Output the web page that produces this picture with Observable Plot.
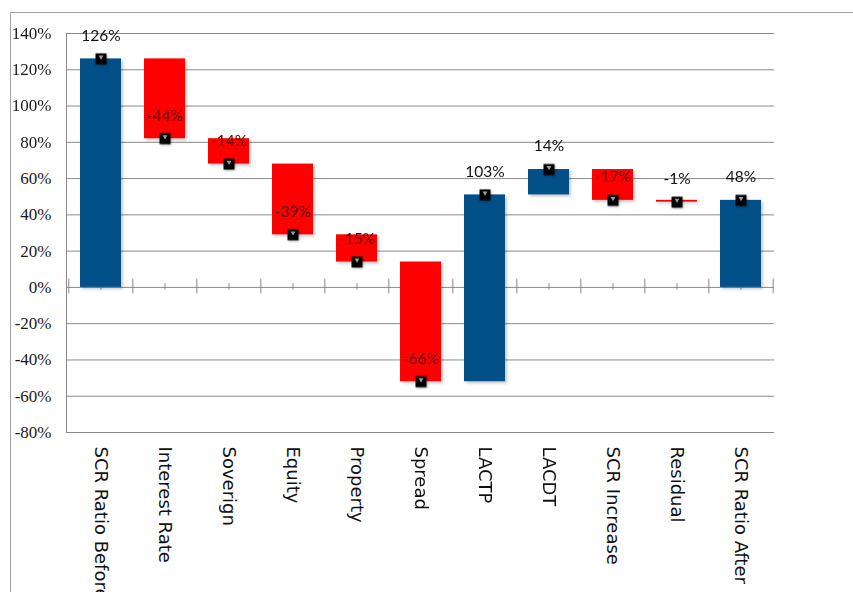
<!DOCTYPE html>
<html>
<head>
<meta charset="utf-8">
<script src="https://cdn.jsdelivr.net/npm/d3@7"></script>
<script src="https://cdn.jsdelivr.net/npm/@observablehq/plot@0.6"></script>
<style>
  body { margin: 0; background: #fff; }
  #wrap { position: relative; width: 853px; height: 592px; overflow: hidden; }
  #border { position: absolute; left: 10px; top: 12px; right: -4px; bottom: -4px;
            border-left: 1.5px solid #a3a3a3; border-top: 1.5px solid #a3a3a3; }
  #chart { position: absolute; left: 0; top: 0; }
  .bars { filter: drop-shadow(2px 2px 1.5px rgba(0,0,0,0.22)); }
  .marker { filter: drop-shadow(1px 1px 1px rgba(0,0,0,0.3)); }
  #chart [aria-label^="y-axis"] text { font-family: "Liberation Serif", serif !important; font-size: 17px !important; fill: #1a1a1a !important; }
  #chart [aria-label^="x-axis"] text { font-family: "DejaVu Sans", sans-serif !important; font-size: 18px !important; fill: #111 !important; }
</style>
</head>
<body>
<div id="wrap"><div id="border"></div><div id="chart"></div></div>
<script>
// Solvency ratio walk: starting ratio, shocks, loss absorbency, ending ratio
const categories = ["SCR Ratio Before", "Interest Rate", "Soverign", "Equity", "Property", "Spread",
                    "LACTP", "LACDT", "SCR Increase", "Residual", "SCR Ratio After"];
const changes = [126, -44, -14, -39, -15, -66, 103, 14, -17, -1, 48];
const isTotal = [true, false, false, false, false, false, false, false, false, false, true];
const yTicks = [-80, -60, -40, -20, 0, 20, 40, 60, 80, 100, 120, 140];

const BLUE = "#034f88";
const RED = "#ff0000";
const GRID = "#8a8a8a";

// running totals for the waterfall
let running = 0;
const rows = categories.map((category, i) => {
  let start, end;
  if (isTotal[i]) { start = 0; end = changes[i]; }
  else { start = running; end = running + changes[i]; }
  running = end;
  return {category, start, end, value: changes[i]};
});

const W = 853, H = 592;
const mL = 66, mR = 79, mT = 33, mB = 160;
const step = (W - mL - mR) / categories.length;

const chart = Plot.plot({
  width: W,
  height: H,
  marginLeft: mL,
  marginRight: mR,
  marginTop: mT,
  marginBottom: mB,
  x: {type: "band", domain: categories, paddingInner: 0.36, paddingOuter: 0.18, label: null},
  y: {domain: [-80, 140], label: null},
  marks: [
    Plot.ruleY(yTicks, {stroke: GRID, strokeWidth: 1}),
    Plot.frame({anchor: "left", stroke: GRID}),
    // major ticks between categories, minor ticks at their centres
    Plot.ruleX(categories, {x: d => d, y1: 4.5, y2: -3.5, dx: -step / 2, stroke: GRID}),
    Plot.ruleX(categories.slice(-1), {x: d => d, y1: 4.5, y2: -3.5, dx: step / 2, stroke: GRID}),
    Plot.ruleX(categories, {x: d => d, y1: 2, y2: -1.5, stroke: GRID}),
    Plot.barY(rows, {x: "category", y1: "start", y2: "end",
                     fill: d => d.value < 0 ? RED : BLUE, className: "bars"}),
    Plot.dot(rows, {x: "category", y: "end", symbol: "square", r: 6.2, fill: "#000", stroke: "none",
                    className: "marker"}),
    Plot.dot(rows, {x: "category", y: "end", symbol: "triangle", r: 1.8, rotate: 180, dy: -2,
                    fill: "#9a9a9a", stroke: "none"}),
    Plot.text(rows, {x: "category", y: "end", text: d => d.value + "%", dy: -23,
                     fontFamily: "Lato", fontSize: 15.5,
                     fill: d => d.value < -5 ? "#5a0000" : "#111"}),
    Plot.axisY({ticks: yTicks, tickFormat: d => d + "%", tickSize: 0, tickPadding: 15}),
    Plot.axisX({tickRotate: 90, tickSize: 0, tickPadding: 14, label: null})
  ]
});

// axis typefaces: serif percentages on the left, sans category names below
d3.select(chart).selectAll('[aria-label^="y-axis"] text')
  .attr("font-family", "Liberation Serif").attr("font-size", 17).style("font-family", "Liberation Serif").style("font-size", "17px");
d3.select(chart).selectAll('[aria-label^="x-axis"] text')
  .attr("font-family", "DejaVu Sans").attr("font-size", 18).style("font-family", "DejaVu Sans").style("font-size", "18px");

document.getElementById("chart").appendChild(chart);
</script>
</body>
</html>
